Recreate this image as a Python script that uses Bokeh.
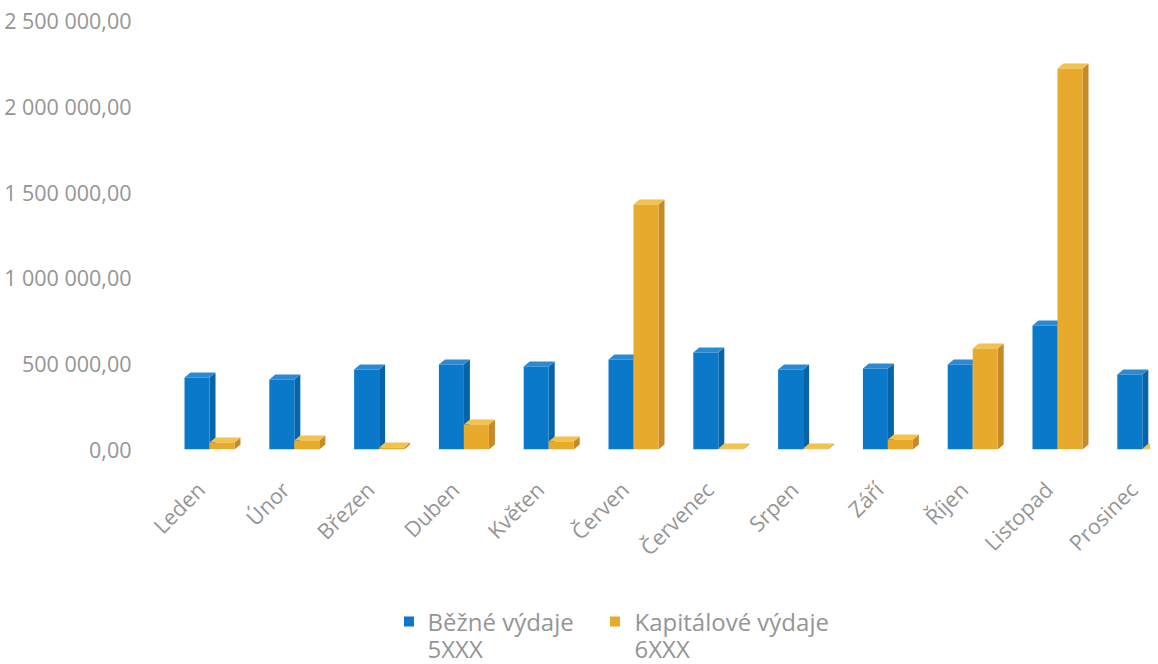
import math
from bokeh.plotting import figure
from bokeh.layouts import column
from bokeh.models import Range1d, FixedTicker, ColumnDataSource
from bokeh.core.properties import value
from bokeh.embed import file_html
from bokeh.resources import INLINE

months = ["Leden", "Únor", "Březen", "Duben", "Květen", "Červen",
          "Červenec", "Srpen", "Září", "Říjen", "Listopad", "Prosinec"]
bezne = [420000, 408000, 466000, 495000, 484000, 524000,
         565000, 466000, 472000, 495000, 723000, 437000]
kapitalove = [41000, 52000, 12000, 146000, 47000, 1428000,
              6000, 6000, 58000, 589000, 2220000, 5000]
y_ticks = [0, 500000, 1000000, 1500000, 2000000, 2500000]
y_tick_labels = ["0,00", "500 000,00", "1 000 000,00", "1 500 000,00",
                 "2 000 000,00", "2 500 000,00"]
series_names = ["Běžné výdaje\n5XXX", "Kapitálové výdaje\n6XXX"]

FONT = "Open Sans"
TXT = "#959595"
BLUE = ("#0a79ca", "#0864a8", "#2a8ad4")
ORANGE = ("#e8aa2c", "#c88a26", "#f2c24a")

W = 1150
H1, H2 = 600, 64
FRAME_L, FRAME_T = 150, 14
FRAME_W, FRAME_H = W - FRAME_L, 435
x_start, x_end = -0.696, 11.0 + (FRAME_W - 59 - 11 * 84.8) / 84.8
y_end = 2535000

px_x = FRAME_W / (x_end - x_start)
px_y = FRAME_H / (y_end - 0)
bw = 25 / px_x          # front face width
dx = 6 / px_x           # depth in x
dy = 5 / px_y           # depth in y
label_shift = 9 / px_x  # rotated labels end a little left of the group centre

p = figure(width=W, height=H1, output_backend="svg", toolbar_location=None,
           x_range=Range1d(x_start, x_end), y_range=Range1d(0, y_end),
           min_border_left=FRAME_L, min_border_top=FRAME_T,
           min_border_right=0, min_border_bottom=H1 - FRAME_T - FRAME_H)
p.outline_line_color = None
p.grid.visible = False


def box3d(offset, vals, colors):
    front, side, top = colors
    lefts = [i + offset for i in range(len(vals))]
    rights = [l + bw for l in lefts]
    sx = [[r, r + dx, r + dx, r] for r in rights]
    sy = [[0, dy, v + dy, v] for v in vals]
    tx = [[l, l + dx, r + dx, r] for l, r in zip(lefts, rights)]
    ty = [[v, v + dy, v + dy, v] for v in vals]
    p.patches(sx, sy, fill_color=side, line_color=None)
    p.patches(tx, ty, fill_color=top, line_color=None)
    src = ColumnDataSource(dict(l=lefts, r=rights, t=vals, b=[0] * len(vals)))
    return p.quad(left="l", right="r", top="t", bottom="b", source=src,
                  fill_color=front, line_color=None)


box3d(-bw, bezne, BLUE)
box3d(0.0, kapitalove, ORANGE)

# y axis
ya = p.yaxis[0]
ya.ticker = FixedTicker(ticks=y_ticks)
ya.major_label_overrides = {t: s for t, s in zip(y_ticks, y_tick_labels)}
ya.axis_line_color = None
ya.major_tick_line_color = None
ya.minor_tick_line_color = None
ya.major_label_standoff = 13
ya.major_label_text_font = FONT
ya.major_label_text_font_size = "21.5px"
ya.major_label_text_color = TXT

# x axis
xt = [i - label_shift for i in range(len(months))]
xa = p.xaxis[0]
xa.ticker = FixedTicker(ticks=xt)
xa.major_label_overrides = {t: m for t, m in zip(xt, months)}
xa.axis_line_color = None
xa.major_tick_line_color = None
xa.minor_tick_line_color = None
xa.major_label_orientation = math.pi / 4
xa.major_label_standoff = 30
xa.major_label_text_font = FONT
xa.major_label_text_font_size = "21.5px"
xa.major_label_text_color = TXT

# legend strip below the chart (pixel coordinates; its frame is aligned
# with the chart frame by the column layout)
lg = figure(width=W, height=H2, output_backend="svg", toolbar_location=None,
            x_range=Range1d(FRAME_L, W), y_range=Range1d(0, H2),
            x_axis_type=None, y_axis_type=None,
            min_border_left=FRAME_L, min_border_right=0,
            min_border_top=0, min_border_bottom=0)
lg.grid.visible = False
lg.outline_line_color = None

sq_x = [408.5, 614.5]
txt_x = [427, 634]
line1 = [s.split("\n")[0] for s in series_names]
line2 = [s.split("\n")[1] for s in series_names]
lg.rect(x=sq_x, y=[H2 - 21] * 2, width=10, height=10,
        fill_color=[BLUE[0], ORANGE[0]], line_color=None)
lg.text(x=txt_x, y=[H2 - 21] * 2, text=line1, text_font=value(FONT),
        text_font_size="24px", text_color=TXT, text_baseline="middle",
        text_align="left")
lg.text(x=txt_x, y=[H2 - 48] * 2, text=line2, text_font=value(FONT),
        text_font_size="24px", text_color=TXT, text_baseline="middle",
        text_align="left")

layout = column(p, lg, spacing=0)
open("out.html", "w").write(file_html(layout, INLINE))
